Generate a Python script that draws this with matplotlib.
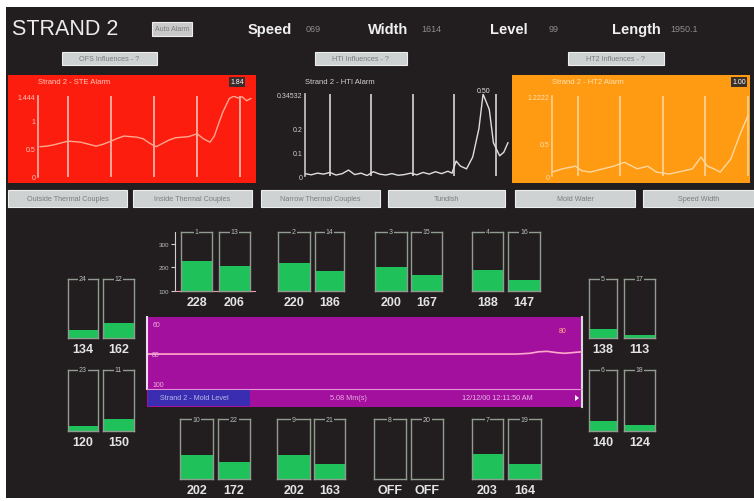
import matplotlib
matplotlib.use("Agg")
import matplotlib.pyplot as plt
from matplotlib.patches import Rectangle, Polygon

plt.rcParams['font.family'] = ['Liberation Sans', 'DejaVu Sans']

# -------------------------
# DATA
# -------------------------

# header readouts
header_labels = ["Speed", "Width", "Level", "Length"]
header_values = ["069", "1614", "99", "1950.1"]

# alarm trend charts (time in % of window, value)
ste_t = [1, 4, 7, 10, 14, 17, 20, 24, 27, 30, 34, 37, 40, 43, 46, 49, 52, 55,
         58, 61, 64, 67, 70, 74, 77, 80, 82, 84, 86, 89, 91, 93, 95, 97, 99]
ste_v = [0.54, 0.55, 0.57, 0.60, 0.64, 0.63, 0.62, 0.58, 0.55, 0.58, 0.64, 0.69,
         0.73, 0.72, 0.71, 0.68, 0.60, 0.54, 0.60, 0.66, 0.70, 0.71, 0.72, 0.77,
         0.68, 0.62, 0.73, 0.95, 1.16, 1.40, 1.44, 1.41, 1.43, 1.36, 1.40]

hti_t = [2, 5, 8, 11, 14, 17, 20, 23, 26, 29, 32, 35, 38, 41, 44, 47, 50, 53,
         56, 59, 62, 65, 68, 71, 73, 75, 77, 80, 83, 86, 88, 91, 93, 96, 98, 100]
hti_v = [0.01, 0.005, 0.012, 0.008, 0.015, 0.004, 0.01, 0.025, 0.006, 0.012,
         0.002, 0.018, 0.008, 0.004, 0.01, 0.003, 0.006, 0.012, 0.005, 0.015,
         0.008, 0.018, 0.01, 0.02, 0.012, 0.063, 0.042, 0.03, 0.08, 0.2, 0.345,
         0.28, 0.14, 0.085, 0.1, 0.14]

ht2_t = [2, 7, 13, 16, 20, 26, 31, 36, 42, 47, 51, 57, 64, 68, 72, 75, 78, 81,
         86, 90, 94]
ht2_v = [0.06, 0.11, 0.15, 0.08, 0.06, 0.11, 0.15, 0.21, 0.11, 0.15, 0.06, 0.03,
         0.08, 0.11, 0.29, 0.15, 0.11, 0.06, 0.26, 0.61, 0.92]

time_marks = [14, 34, 54, 74, 94]

# thermocouple gauges
top_ids = ["1", "13", "2", "14", "3", "15", "4", "16"]
top_vals = [228, 206, 220, 186, 200, 167, 188, 147]
bottom_ids = ["10", "22", "9", "21", "8", "20", "7", "19"]
bottom_vals = [202, 172, 202, 163, None, None, 203, 164]
left_ids = ["24", "12", "23", "11"]
left_vals = [134, 162, 120, 150]
right_ids = ["5", "17", "6", "18"]
right_vals = [138, 113, 140, 124]

# mold level trend
mold_t = [0, 10, 20, 30, 40, 50, 60, 70, 80, 85, 88, 90, 92, 94, 96, 98, 100]
mold_v = [80, 80, 80, 80, 80, 80, 80, 80, 80, 80, 79.5, 78.5, 78.2, 79, 79.5, 79, 78.5]
mold_ticks = [60, 80, 100]

button_row = ["Outside Thermal Couples", "Inside Thermal Couples",
              "Narrow Thermal Couples", "Tundish", "Mold Water", "Speed Width"]

# -------------------------
# LAYOUT HELPERS
# -------------------------
W, H = 754, 502
BG = '#221e1f'
GREEN = '#1fc25a'
BOX = '#8f9c8f'


def rect(x0, y0, x1, y1):
    return [x0 / W, 1 - y1 / H, (x1 - x0) / W, (y1 - y0) / H]


def fx(x):
    return x / W


def fy(y):
    return 1 - y / H


def blank(ax):
    ax.set_xticks([])
    ax.set_yticks([])
    for s in ax.spines.values():
        s.set_visible(False)


def button(x0, y0, x1, y1, label, fc='#cfd2d3', size=5.2):
    fig.patches.append(Rectangle((fx(x0), fy(y1)), fx(x1) - fx(x0), fy(y0) - fy(y1),
                                 transform=fig.transFigure, fc=fc, ec='#eeeeee', lw=0.8))
    fig.text(fx((x0 + x1) / 2), fy((y0 + y1) / 2), label, ha='center', va='center',
             fontsize=size, color='#7c7c7c')


def trend(panel, inner, xlim, ylim, yticks, ylabels, t, v, fc, line_c, mark_c,
          title, title_c):
    pax = fig.add_axes(rect(*panel))
    pax.set_facecolor(fc)
    blank(pax)
    ax = fig.add_axes(rect(*inner))
    ax.set_facecolor('none')
    ax.set_xlim(*xlim)
    ax.set_ylim(*ylim)
    for s in ['top', 'right', 'bottom']:
        ax.spines[s].set_visible(False)
    ax.spines['left'].set_color(mark_c)
    ax.spines['left'].set_linewidth(1.2)
    ax.set_xticks([])
    ax.set_yticks(yticks)
    ax.set_yticklabels(ylabels)
    ax.tick_params(axis='y', length=0, labelsize=5, labelcolor=title_c, pad=2)
    for m in time_marks:
        ax.axvline(m, color=mark_c, lw=1.3)
    ax.plot(t, v, color=line_c, lw=1)
    fig.text(fx(inner[0]), fy(panel[1] + 7), title, fontsize=5.5, color=title_c,
             va='center')
    return ax


def gauge(x0, x1, y0, y1, val, tag):
    ax = fig.add_axes(rect(x0, y0, x1, y1))
    ax.set_facecolor('none')
    ax.set_xlim(0, 1)
    ax.set_ylim(100, 350)
    if val is not None:
        ax.bar(0.5, val - 100, bottom=100, width=1.0, color=GREEN)
    for s in ax.spines.values():
        s.set_color(BOX)
        s.set_linewidth(1)
    ax.set_xticks([])
    ax.set_yticks([])
    ax.text(0.5, 1.0, tag, transform=ax.transAxes, ha='center', va='center',
            fontsize=5, color='#bbbbbb',
            bbox=dict(fc=BG, ec='none', pad=0.6))
    label = 'OFF' if val is None else str(val)
    fig.text(fx((x0 + x1) / 2), fy(y1 + 11), label, ha='center', va='center',
             fontsize=9, fontweight='bold', color='#e4e4e4')


# -------------------------
# FIGURE
# -------------------------
fig = plt.figure(figsize=(W / 100, H / 100), dpi=100, facecolor='white')
bg = fig.add_axes(rect(6, 8, 754, 499))
bg.set_facecolor(BG)
blank(bg)

# header
fig.text(fx(12), fy(30), "STRAND 2", fontsize=15.5, color='#ececec', va='center')
button(152, 23, 192, 37, "Auto Alarm", fc='#c9c9c9', size=5)
for lab, val, lx, vx in zip(header_labels, header_values,
                            [248, 368, 490, 612], [306, 421, 549, 670]):
    fig.text(fx(lx), fy(30), lab, fontsize=10.5, fontweight='bold',
             color='#f0f0f0', va='center')
    fig.text(fx(vx), fy(30), val, fontsize=6.5, color='#8c8c8c', va='center')

button(62, 53, 157, 66, "OFS Influences - ?")
button(315, 53, 407, 66, "HTI Influences - ?")
button(568, 53, 664, 66, "HT2 Influences - ?")

# alarm charts
trend((8, 76, 256, 184), (38, 97, 253, 178), (0, 100), (0, 1.444),
      [0, 0.5, 1, 1.444], ["0", "0.5", "1", "1.444"], ste_t, ste_v,
      '#fd1d0f', '#ffa890', '#ffb2a6', "Strand 2 - STE Alarm", '#ffc8bc')
fig.text(fx(237), fy(83), "1.84", fontsize=5, color='white', ha='center',
         va='center', bbox=dict(fc='#3b2b2b', ec='none', pad=1.2))

hax = trend((256, 76, 512, 184), (305, 95, 510, 177), (2, 101), (0, 0.34532),
            [0, 0.1, 0.2, 0.34532], ["0", "0.1", "0.2", "0.34532"], hti_t, hti_v,
            BG, '#dedede', '#c8c8c8', "Strand 2 - HTI Alarm", '#d0d0d0')
hax.text(hti_t[hti_v.index(max(hti_v))], 0.345, "0.50", fontsize=5,
         color='#e0e0e0', ha='center', va='bottom', clip_on=False)

trend((512, 76, 750, 184), (552, 97, 750, 177), (2, 95), (0, 1.2222),
      [0, 0.5, 1.2222], ["0", "0.5", "1.2222"], ht2_t, ht2_v,
      '#ff9b12', '#ffd7a0', '#ffd08e', "Strand 2 - HT2 Alarm", '#ffe0b4')
fig.text(fx(739), fy(83), "1.00", fontsize=5, color='white', ha='center',
         va='center', bbox=dict(fc='#3b3028', ec='none', pad=1.2))

# button row
for lab, (x0, x1) in zip(button_row, [(8, 127), (133, 252), (261, 380),
                                      (388, 505), (515, 635), (643, 754)]):
    button(x0, 191, x1, 208, lab)

# gauges - top row with scale
sax = fig.add_axes(rect(175, 233, 255, 292))
sax.set_facecolor('none')
sax.set_ylim(100, 350)
sax.set_xlim(0, 1)
for s in ['top', 'right']:
    sax.spines[s].set_visible(False)
sax.spines['left'].set_color('#cfcfcf')
sax.spines['bottom'].set_color('#e8a0b0')
sax.set_xticks([])
sax.set_yticks([100, 200, 300])
sax.tick_params(axis='y', length=3, labelsize=4.5, labelcolor='#bbbbbb',
                color='#cfcfcf', pad=1)

top_x = [(181, 212), (219, 250), (278, 310), (315, 344),
         (375, 407), (411, 442), (472, 503), (508, 540)]
for (x0, x1), v, tag in zip(top_x, top_vals, top_ids):
    gauge(x0, x1, 233, 292, v, tag)

bot_x = [(180, 213), (218, 250), (277, 310), (314, 345),
         (374, 406), (411, 443), (472, 503), (508, 541)]
for (x0, x1), v, tag in zip(bot_x, bottom_vals, bottom_ids):
    gauge(x0, x1, 420, 480, v, tag)

side_y = [(280, 339), (280, 339), (371, 432), (371, 432)]
for (x0, x1), (y0, y1), v, tag in zip([(68, 98), (103, 134)] * 2, side_y,
                                      left_vals, left_ids):
    gauge(x0, x1, y0, y1, v, tag)
for (x0, x1), (y0, y1), v, tag in zip([(589, 617), (624, 655)] * 2, side_y,
                                      right_vals, right_ids):
    gauge(x0, x1, y0, y1, v, tag)

# mold level panel
mp = fig.add_axes(rect(147, 318, 582, 408))
mp.set_facecolor('#a3109e')
blank(mp)
mp.spines['right'].set_visible(True)
mp.spines['right'].set_color('#d8d8d8')
mp.spines['right'].set_linewidth(1.5)

max_ = fig.add_axes(rect(147, 318, 582, 390))
max_.set_facecolor('none')
max_.set_xlim(0, 100)
max_.set_ylim(103.3, 55.3)
for s in ['top', 'right']:
    max_.spines[s].set_visible(False)
max_.spines['left'].set_color('#f0d8f0')
max_.spines['left'].set_linewidth(1.5)
max_.spines['bottom'].set_color('#e890d8')
max_.set_xticks([])
max_.set_yticks([])
max_.plot(mold_t, mold_v, color='#ffa8cc', lw=1.2)
for tv in mold_ticks:
    max_.text(0.012, tv, str(tv), transform=max_.get_yaxis_transform(),
              fontsize=5, color='#f0b0e0', va='center', ha='left')
max_.text(95.6, 64, "80", fontsize=5, color='#ffb080', ha='center', va='center')

fig.patches.append(Rectangle((fx(148), fy(407)), fx(250) - fx(148), fy(391) - fy(407),
                             transform=fig.transFigure, fc='#3a2db2', ec='none'))
fig.text(fx(160), fy(399), "Strand 2 - Mold Level", fontsize=5.2, color='#b8b8e8',
         va='center')
fig.text(fx(330), fy(399), "5.08 Mm(s)", fontsize=5.2, color='#eaa8e4', va='center')
fig.text(fx(462), fy(399), "12/12/00 12:11:50 AM", fontsize=5.2, color='#eab4ea',
         va='center')
fig.patches.append(Polygon([(fx(575), fy(396)), (fx(575), fy(402)), (fx(579), fy(399))],
                           closed=True, transform=fig.transFigure, fc='white',
                           ec='none'))

fig.savefig("out.png", dpi=100, facecolor=fig.get_facecolor())
